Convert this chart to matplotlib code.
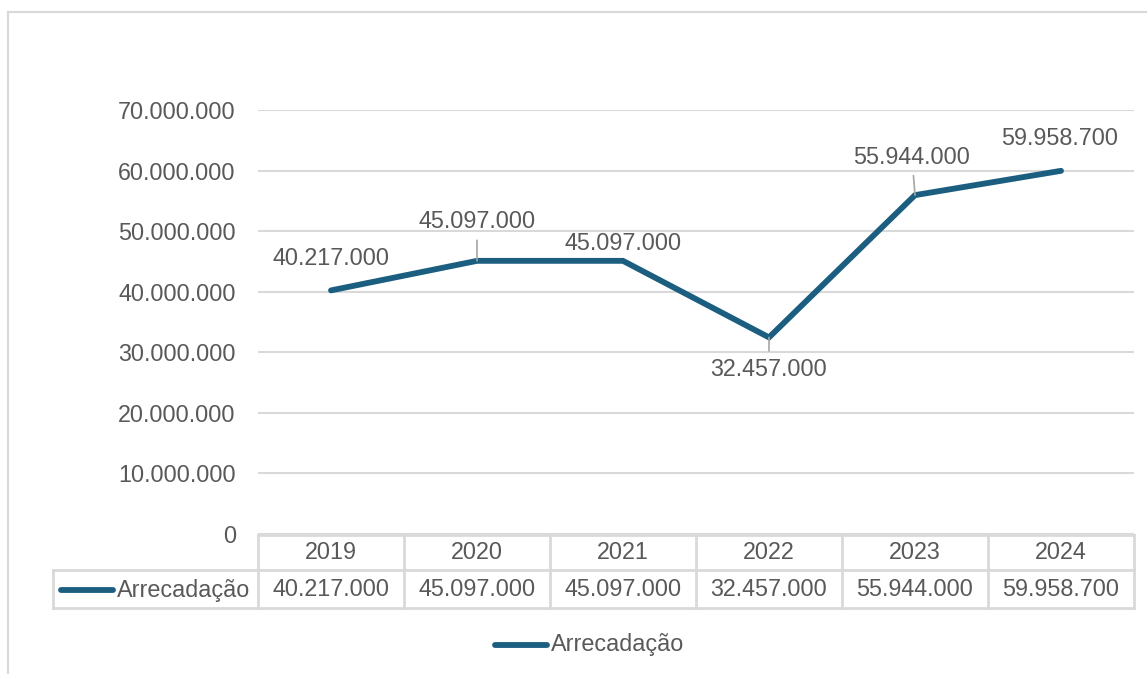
import matplotlib
matplotlib.use('Agg')
import matplotlib.pyplot as plt
from matplotlib.lines import Line2D
from matplotlib.ticker import FuncFormatter

years = ['2019', '2020', '2021', '2022', '2023', '2024']
values = [40217000, 45097000, 45097000, 32457000, 55944000, 59958700]
series_name = 'Arrecadação'

LINE = '#1B5E80'
GRID = '#D9D9D9'
TXT = '#595959'
plt.rcParams['font.family'] = ['Liberation Sans', 'DejaVu Sans']
FS = 16.8

def br(v, pos=None):
    return f'{v:,.0f}'.replace(',', '.')

W, H = 1147, 674
fig = plt.figure(figsize=(W / 100, H / 100), dpi=100)

# outer chart border (left and top visible)
fig.add_artist(Line2D([8 / W, 8 / W], [0, 1 - 12 / H], color=GRID, lw=1.5))
fig.add_artist(Line2D([8 / W, 1], [1 - 12 / H, 1 - 12 / H], color=GRID, lw=1.5))

left, right, top, bottom = 258, 1134, 110, 534
ax = fig.add_axes([left / W, 1 - bottom / H, (right - left) / W, (bottom - top) / H])
x = list(range(len(years)))
ax.plot(x, values, color=LINE, lw=4.2, solid_capstyle='round', solid_joinstyle='miter', zorder=3)
ax.set_xlim(-0.5, len(years) - 0.5)
ax.set_ylim(0, 70000000)
ax.set_yticks(range(0, 70000001, 10000000))
ax.yaxis.set_major_formatter(FuncFormatter(br))
ax.tick_params(axis='y', length=0, pad=16, labelsize=FS, labelcolor=TXT)
ax.set_xticks([])
ax.grid(axis='y', color=GRID, lw=1.5)
for s in ax.spines.values():
    s.set_visible(False)
ax.set_axisbelow(True)

# data labels (offsets in pixels)
offsets = [(0, 32, False), (0, 39, True), (0, 17, False), (0, -32, True), (-3, 38, True), (-1, 32, False)]
for xi, v, (dx, dy, lead) in zip(x, values, offsets):
    kw = {}
    if lead:
        kw['arrowprops'] = dict(arrowstyle='-', color='#A6A6A6', lw=1.2, shrinkA=3, shrinkB=0)
    ax.annotate(br(v), (xi, v), xytext=(dx, dy), textcoords='offset pixels',
                ha='center', va='center', fontsize=FS, color=TXT, zorder=4, **kw)

# data table below the plot
ah = bottom - top
def ay(py):
    return (bottom - py) / ah
y0, y1, y2 = ay(535), ay(570), ay(608)
tr = ax.get_xaxis_transform()
lk = dict(color=GRID, lw=2, clip_on=False, transform=tr)
leg_left = -0.5 - (left - 53) / ((right - left) / len(years))
ax.add_line(Line2D([-0.5, len(years) - 0.5], [y0, y0], **lk))
ax.add_line(Line2D([leg_left, len(years) - 0.5], [y1, y1], **lk))
ax.add_line(Line2D([leg_left, len(years) - 0.5], [y2, y2], **lk))
ax.add_line(Line2D([leg_left, leg_left], [y1, y2], **lk))
for i in range(len(years) + 1):
    ax.add_line(Line2D([i - 0.5, i - 0.5], [y0, y2], **lk))
for xi, yr, v in zip(x, years, values):
    ax.text(xi, (y0 + y1) / 2, yr, transform=tr, ha='center', va='center', fontsize=FS, color=TXT)
    ax.text(xi, (y1 + y2) / 2, br(v), transform=tr, ha='center', va='center', fontsize=FS, color=TXT)

# legend key in table
ym = 1 - 590 / H
fig.add_artist(Line2D([61 / W, 113 / W], [ym, ym], color=LINE, lw=4.2, solid_capstyle='round'))
fig.text(117 / W, ym, series_name, ha='left', va='center', fontsize=FS, color=TXT)

# bottom legend
yl = 1 - 645 / H
fig.add_artist(Line2D([495 / W, 547 / W], [yl, yl], color=LINE, lw=4.2, solid_capstyle='round'))
fig.text(551 / W, yl, series_name, ha='left', va='center', fontsize=FS, color=TXT)

fig.savefig('out.png', dpi=100, facecolor='white')
